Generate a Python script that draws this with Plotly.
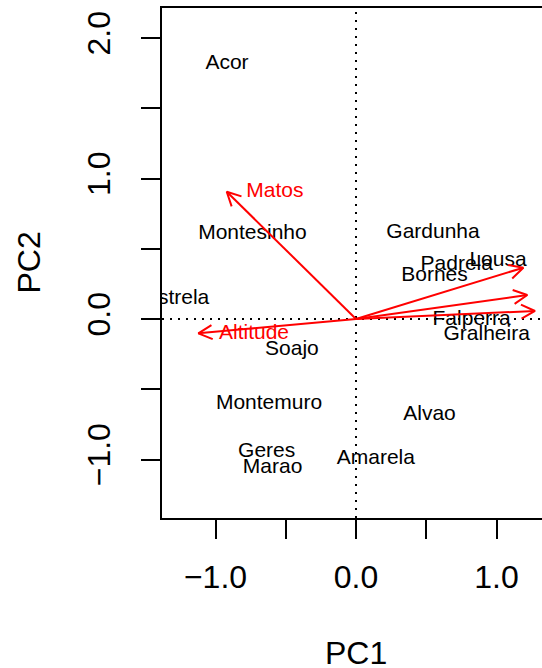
import numpy as np
import plotly.graph_objects as go

# ---- data ----
sites = ["Acor", "Montesinho", "Gardunha", "Lousa", "Padrela", "Bornes", "Estrela",
         "Falperra", "Gralheira", "Soajo", "Montemuro", "Alvao", "Geres", "Marao", "Amarela"]
pc1 = [-0.918, -0.737, 0.548, 1.011, 0.717, 0.559, -1.277,
       0.823, 0.930, -0.456, -0.619, 0.523, -0.636, -0.594, 0.141]
pc2 = [1.815, 0.605, 0.612, 0.413, 0.385, 0.306, 0.145,
       -0.007, -0.114, -0.220, -0.602, -0.683, -0.946, -1.060, -0.998]

# variable loadings (arrow tips, in PC1/PC2 axis units)
arrow_x = [-0.920, -1.122, 1.191, 1.219, 1.274]
arrow_y = [0.906, -0.102, 0.365, 0.171, 0.057]

var_labels = ["Matos", "Altitude"]
var_label_x = [-0.577, -0.726]
var_label_y = [0.904, -0.104]

x_ticks = [-1.0, -0.5, 0.0, 0.5, 1.0]
x_ticktext = ["\u22121.0", "", "0.0", "", "1.0"]
y_ticks = [-1.0, -0.5, 0.0, 0.5, 1.0, 1.5, 2.0]
y_ticktext = ["\u22121.0", "", "0.0", "", "1.0", "", "2.0"]

RED = "#FF0000"
FONT = "Liberation Sans, Arial, sans-serif"

fig = go.Figure()

# site labels
fig.add_trace(go.Scatter(
    x=pc1, y=pc2, mode="text", text=sites, textposition="middle center",
    textfont=dict(family=FONT, size=21, color="black"), cliponaxis=True,
    hoverinfo="skip", showlegend=False))

# arrow shafts
sx, sy = [], []
for ax_, ay_ in zip(arrow_x, arrow_y):
    sx += [0, ax_, None]
    sy += [0, ay_, None]
fig.add_trace(go.Scatter(x=sx, y=sy, mode="lines", line=dict(color=RED, width=2),
                         hoverinfo="skip", showlegend=False))

# arrow heads (open V)
L = 0.11
a = np.deg2rad(27)
hx, hy = [], []
for ax_, ay_ in zip(arrow_x, arrow_y):
    th = np.arctan2(ay_, ax_)
    hx += [ax_ + L * np.cos(th + np.pi + a), ax_, ax_ + L * np.cos(th + np.pi - a), None]
    hy += [ay_ + L * np.sin(th + np.pi + a), ay_, ay_ + L * np.sin(th + np.pi - a), None]
fig.add_trace(go.Scatter(x=hx, y=hy, mode="lines", line=dict(color=RED, width=2),
                         hoverinfo="skip", showlegend=False))

# variable labels
fig.add_trace(go.Scatter(
    x=var_label_x, y=var_label_y, mode="text", text=var_labels, textposition="middle center",
    textfont=dict(family=FONT, size=21, color=RED), hoverinfo="skip", showlegend=False))

# dotted reference lines
fig.add_hline(y=0, line=dict(color="black", width=2, dash="2px,6px"), layer="below")
fig.add_vline(x=0, line=dict(color="black", width=2, dash="2px,6px"), layer="below")

axis_common = dict(showgrid=False, zeroline=False, showline=True, linecolor="black",
                   linewidth=2, ticks="outside", ticklen=19, tickwidth=2, tickcolor="black",
                   tickfont=dict(family=FONT, size=32, color="black"))

fig.update_layout(
    width=542, height=668,
    margin=dict(l=162, r=0, t=8, b=150),
    paper_bgcolor="white", plot_bgcolor="white",
    xaxis=dict(range=[-1.3808, 1.3238], tickvals=x_ticks, ticktext=x_ticktext,
               mirror=True, ticklabelstandoff=11, **axis_common),
    yaxis=dict(range=[-1.4164, 2.2135], tickvals=y_ticks, ticktext=y_ticktext,
               tickangle=-90, ticklabelstandoff=18, **axis_common),
    annotations=[
        dict(text="PC1", x=0, xref="x", y=-0.2655, yref="paper", showarrow=False,
             xanchor="center", yanchor="middle", font=dict(family=FONT, size=32, color="black")),
        dict(text="PC2", x=-0.3513, xref="paper", y=0.5, yref="paper", showarrow=False,
             textangle=-90, xanchor="center", yanchor="middle",
             font=dict(family=FONT, size=32, color="black")),
    ],
)

fig.write_html("out.html")
